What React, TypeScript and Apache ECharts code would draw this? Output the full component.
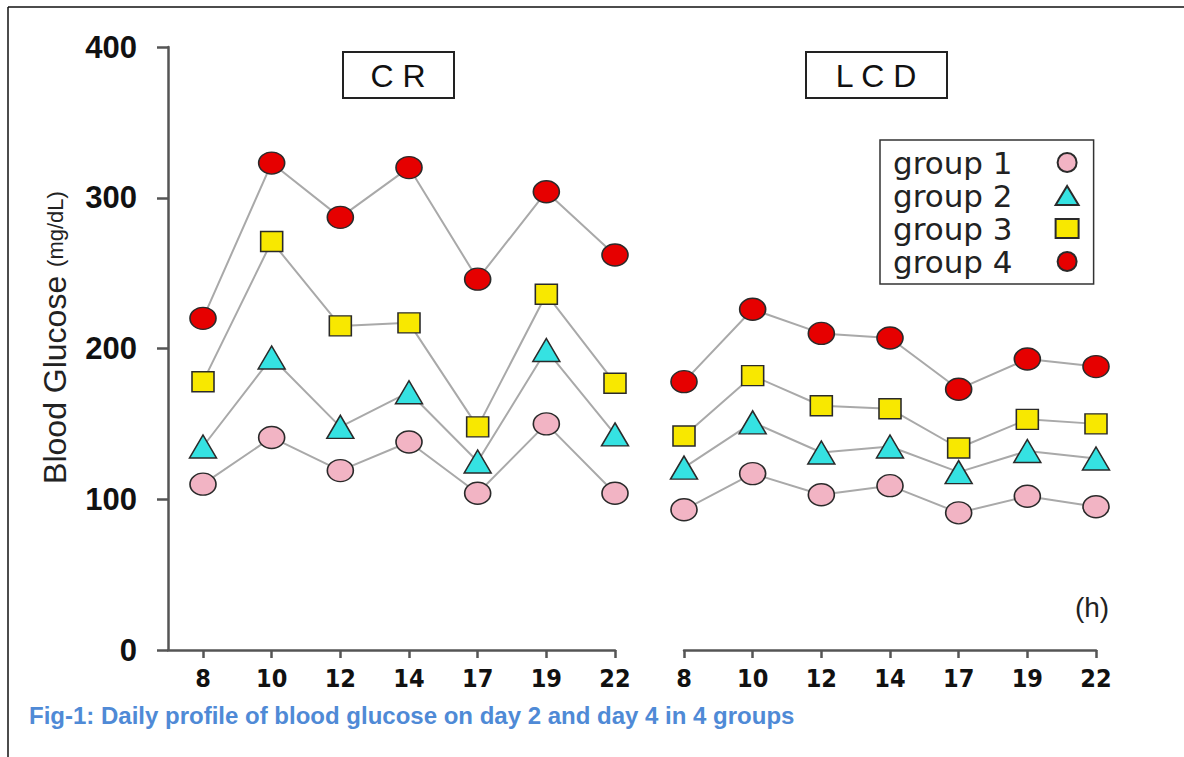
import React, { useEffect, useRef } from 'react';
import * as echarts from 'echarts';

const categories = ['8', '10', '12', '14', '17', '19', '22'];
const groupNames = ['group 1', 'group 2', 'group 3', 'group 4'];

const crGroup1 = [110, 141, 119, 138, 104, 150, 104];
const crGroup2 = [135, 194, 148, 171, 125, 199, 143];
const crGroup3 = [178, 271, 215, 217, 148, 236, 177];
const crGroup4 = [220, 323, 287, 320, 246, 304, 262];

const lcdGroup1 = [93, 117, 103, 109, 91, 102, 95];
const lcdGroup2 = [121, 151, 131, 135, 118, 132, 127];
const lcdGroup3 = [142, 182, 162, 160, 134, 153, 150];
const lcdGroup4 = [178, 226, 210, 207, 173, 193, 188];

const yMin = 0;
const yMax = 400;
const yStep = 100;

const ELLIPSE = 'path://M0,50A50,50,0,1,1,100,50A50,50,0,1,1,0,50Z';
const FONT = '"Liberation Sans", Arial, Helvetica, sans-serif';
const NARROW = '"Liberation Sans Narrow", "DejaVu Sans Condensed", "Liberation Sans", Arial, sans-serif';

export default function App() {
  const ref = useRef<HTMLDivElement>(null);

  useEffect(() => {
    const chart = echarts.init(ref.current as HTMLDivElement, null, { renderer: 'svg' });
    const symbols = [ELLIPSE, 'triangle', 'rect', ELLIPSE];
    const sizes = [[26, 22], [27, 23], [22, 20], [26, 22]];
    const colors = ['#f2b4c4', '#35e2e2', '#f8e800', '#e60000'];
    const panels = [
      [crGroup1, crGroup2, crGroup3, crGroup4],
      [lcdGroup1, lcdGroup2, lcdGroup3, lcdGroup4],
    ];
    const tickIdx = categories.map((_, i) => i);

    const series: any[] = [];
    panels.forEach((groups, p) => {
      groups.forEach((vals, gi) => {
        const data = vals.map((v, i) => [i, v]);
        series.push({
          type: 'line',
          name: 'line-' + p + '-' + gi,
          xAxisIndex: p,
          yAxisIndex: p,
          data,
          symbol: 'none',
          lineStyle: { color: '#a9a9a9', width: 2 },
          z: 2,
          silent: true,
        });
        series.push({
          type: 'scatter',
          name: groupNames[gi],
          xAxisIndex: p,
          yAxisIndex: p,
          data,
          symbol: symbols[gi],
          symbolSize: sizes[gi],
          itemStyle: { color: colors[gi], borderColor: '#2a2a2a', borderWidth: 1.5, opacity: 1 },
          z: 3,
        });
      });
    });

    const axisLineStyle = { color: '#555', width: 2.5 };

    const xAxisBase = (grid: number, min: number) => ({
      type: 'value',
      gridIndex: grid,
      min,
      max: categories.length - 1,
      axisLine: { show: true, onZero: false, lineStyle: axisLineStyle },
      axisTick: { show: true, length: 8, customValues: tickIdx, lineStyle: axisLineStyle },
      axisLabel: {
        customValues: tickIdx,
        formatter: (v: number) => categories[Math.round(v)],
        fontSize: 25,
        fontWeight: 'bold',
        fontFamily: NARROW,
        color: '#111',
        margin: 16,
      },
      splitLine: { show: false },
    });

    const option: any = {
      animation: false,
      backgroundColor: '#fff',
      title: {
        text: 'Fig-1: Daily profile of blood glucose on day 2 and day 4 in 4 groups',
        left: 29,
        top: 703,
        padding: 0,
        textStyle: { fontSize: 24, fontWeight: 'bold', color: '#4f8ad6', fontFamily: FONT },
      },
      grid: [
        { left: 168, top: 47, width: 447, height: 603 },
        { left: 684, top: 47, width: 412, height: 603 },
      ],
      xAxis: [xAxisBase(0, (168 - 203) / (412 / 6)), xAxisBase(1, 0)],
      yAxis: [
        {
          type: 'value',
          gridIndex: 0,
          min: yMin,
          max: yMax,
          interval: yStep,
          axisLine: { show: true, onZero: false, lineStyle: axisLineStyle },
          axisTick: { show: true, length: 11, lineStyle: axisLineStyle },
          axisLabel: { fontSize: 31, fontWeight: 'bold', fontFamily: FONT, color: '#111', margin: 31 },
          splitLine: { show: false },
          name: '{a|Blood Glucose }{b|(mg/dL)}',
          nameLocation: 'middle',
          nameRotate: 90,
          nameGap: 97,
          nameTextStyle: {
            rich: {
              a: { fontSize: 32, fontFamily: FONT, color: '#222', padding: [0, 0, 0, 22] },
              b: { fontSize: 22, fontFamily: FONT, color: '#222' },
            },
          },
        },
        {
          type: 'value',
          gridIndex: 1,
          min: yMin,
          max: yMax,
          interval: yStep,
          show: false,
          splitLine: { show: false },
        },
      ],
      legend: {
        orient: 'vertical',
        left: 880,
        top: 140,
        align: 'right',
        padding: [6, 14, 6, 13],
        itemGap: 0,
        itemWidth: 23,
        itemHeight: 19,
        borderColor: '#333',
        borderWidth: 1.5,
        borderRadius: 0,
        backgroundColor: '#fff',
        formatter: (n: string) => '{t|' + n + '}',
        textStyle: {
          lineHeight: 33,
          height: 33,
          rich: {
            t: { fontSize: 31, fontFamily: '"DejaVu Sans", sans-serif', color: '#222', lineHeight: 33, height: 33, padding: [0, 38, 0, 0] },
          },
        },
        data: groupNames.map((n, i) => ({ name: n, icon: symbols[i] })),
      },
      graphic: [
        { type: 'line', shape: { x1: 8, y1: 7, x2: 1184, y2: 7 }, style: { stroke: '#111', lineWidth: 1.5 }, silent: true },
        { type: 'line', shape: { x1: 8, y1: 7, x2: 8, y2: 757 }, style: { stroke: '#111', lineWidth: 1.5 }, silent: true },
        { type: 'rect', shape: { x: 343, y: 52, width: 111, height: 46 }, style: { fill: '#fff', stroke: '#222', lineWidth: 2 } },
        { type: 'text', x: 398, y: 76, style: { text: 'C R', fontSize: 32, fontFamily: FONT, fill: '#111', align: 'center', verticalAlign: 'middle' } },
        { type: 'rect', shape: { x: 806, y: 52, width: 141, height: 46 }, style: { fill: '#fff', stroke: '#222', lineWidth: 2 } },
        { type: 'text', x: 876, y: 76, style: { text: 'L C D', fontSize: 32, fontFamily: FONT, fill: '#111', align: 'center', verticalAlign: 'middle' } },
        { type: 'text', x: 1092, y: 607, style: { text: '(h)', fontSize: 28, fontFamily: FONT, fill: '#222', align: 'center', verticalAlign: 'middle' } },
      ],
      series,
    };

    chart.setOption(option);
    return () => chart.dispose();
  }, []);

  return <div ref={ref} style={{ position: 'absolute', left: 0, top: 0, width: 1184, height: 757 }} />;
}
